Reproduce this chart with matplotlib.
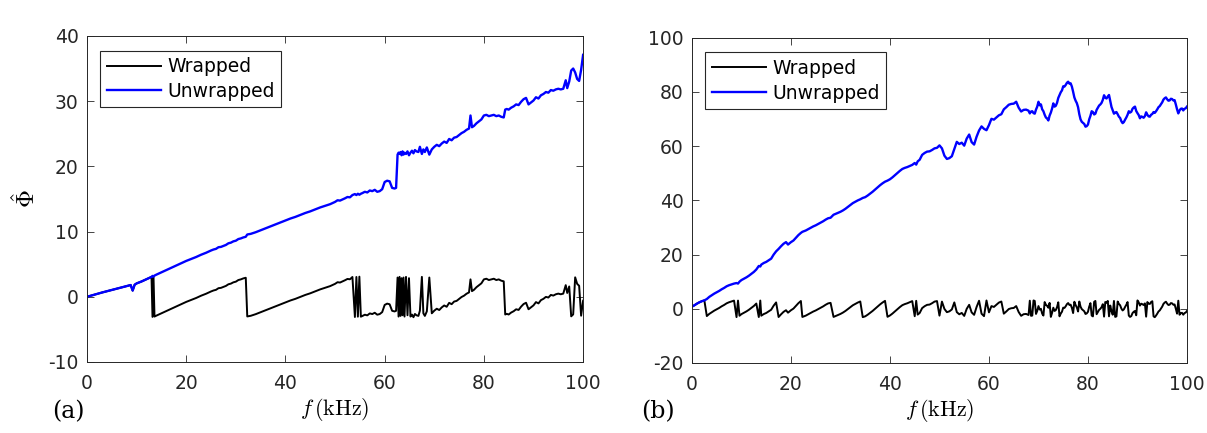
import numpy as np
import matplotlib.pyplot as plt

plt.rcParams['font.family'] = ['DejaVu Sans']
plt.rcParams['mathtext.fontset'] = 'cm'
plt.rcParams['axes.unicode_minus'] = False

# (a) unwrapped phase vs frequency (kHz)
f_a = [0, 1, 2, 3, 4, 5, 6, 7, 8, 8.8, 9.2, 9.6, 10, 11, 12, 13, 13.2, 13.4, 13.6,
       14, 15, 16, 17, 18, 19, 20, 21, 22, 23, 24, 25, 25.5, 26, 26.5, 27, 28, 28.5,
       29, 29.5, 30, 30.5, 31, 31.5, 32, 32.3, 33, 34, 35, 36, 37, 38, 39, 40, 41,
       42, 43, 44, 45, 46, 47, 48, 49, 50, 50.5, 51, 52, 52.5, 53, 53.5, 54, 54.3,
       54.6, 54.9, 55.2, 55.5, 56, 56.5, 57, 57.5, 58, 58.5, 59, 59.5, 60, 60.5, 61,
       61.5, 62, 62.3, 62.6, 62.8, 63.0, 63.2, 63.4, 63.6, 63.8, 64.0, 64.3, 64.6,
       64.9, 65.2, 65.5, 65.8, 66.1, 66.4, 66.8, 67.1, 67.5, 67.8, 68.1, 68.5, 69.0,
       69.5, 70, 70.5, 71, 71.5, 72, 72.5, 73, 73.5, 74, 74.5, 75, 75.5, 76, 76.5,
       77, 77.3, 77.6, 78, 78.5, 79, 79.5, 80, 80.5, 81, 81.5, 82, 82.5, 83, 83.5,
       84, 84.3, 84.6, 85, 85.5, 86, 86.5, 87, 87.5, 88, 88.5, 89, 89.5, 90, 90.5,
       91, 91.5, 92, 92.5, 93, 93.5, 94, 94.5, 95, 95.5, 96, 96.5, 96.8, 97.2, 97.6,
       98.0, 98.4, 98.8, 99.2, 99.6, 100]
phi_a = [0.0, 0.22, 0.45, 0.65, 0.85, 1.05, 1.25, 1.45, 1.65, 1.8, 0.95, 1.85, 2.05,
         2.35, 2.7, 3.05, 3.2, 3.1, 3.25,
         3.4, 3.75, 4.1, 4.45, 4.8, 5.15, 5.5, 5.8, 6.1, 6.45, 6.75, 7.1, 7.25, 7.35,
         7.6, 7.65, 7.95, 8.2, 8.3, 8.5, 8.6, 8.85, 8.95, 9.1, 9.2, 9.55, 9.65, 9.9,
         10.2, 10.5, 10.8, 11.1, 11.4, 11.7, 12.0, 12.25, 12.55, 12.85, 13.1, 13.4,
         13.7, 13.95, 14.2, 14.55, 14.8, 14.75, 15.1, 15.3, 15.25, 15.6, 15.75, 15.6,
         15.8, 15.65, 15.8, 15.9, 16.1, 16.0, 16.3, 16.2, 16.4, 16.1, 16.2, 16.5, 17.6,
         17.8, 17.7, 16.7, 16.6, 16.7, 21.8, 22.1, 21.9, 22.2, 21.7, 22.3, 21.8, 22.1,
         21.9, 22.3, 21.7, 22.1, 22.4, 22.0, 22.5, 22.3, 22.2, 23.0, 21.9, 22.6, 22.2,
         22.9, 21.8,
         22.6, 23.0, 23.3, 23.1, 23.5, 23.8, 23.6, 24.2, 24.0, 24.4, 24.5, 24.8, 25.1,
         25.3, 25.6, 25.8, 27.8, 26.0, 26.2, 26.6, 26.9, 27.2, 27.8, 27.9, 27.7, 27.8,
         27.9, 27.7, 27.8, 27.6, 27.5, 28.7, 28.8, 28.7, 29.0, 29.2, 29.5, 29.4, 29.9,
         30.3, 30.5, 29.5, 29.8, 30.1, 30.6, 30.4, 30.9, 31.1, 31.4, 31.3, 31.7, 31.6,
         31.8, 31.9, 31.8, 31.9, 33.2, 32.0, 33.0, 34.7, 35.0, 34.4, 33.4, 33.1, 34.8,
         37.1]

# (b) unwrapped phase vs frequency (kHz); sampled every 0.25 kHz above 68 kHz
f_b = [0, 0.5, 1, 1.5, 2, 2.5, 3, 3.5, 4, 4.5, 5, 5.5, 6, 6.5, 7, 7.5, 8, 8.5, 9,
       9.3, 9.6, 10, 10.5, 11, 11.5, 12, 12.5, 13, 13.5, 13.8, 14, 14.5, 15, 15.5,
       16, 16.5, 17, 17.5, 18, 18.5, 19, 19.4, 20, 20.5, 21, 21.5, 22, 22.3, 23,
       23.5, 24, 24.5, 25, 25.5, 26, 26.5, 27, 27.5, 28, 28.6, 29, 29.5, 30, 30.5,
       31, 31.5, 32, 32.5, 33, 33.5, 34, 34.5, 35, 35.5, 36, 36.5, 37, 37.5, 38,
       38.5, 39, 39.5, 40, 40.5, 41, 41.5, 42, 42.5, 43, 43.5, 44, 44.5, 45, 45.3,
       45.6, 46, 46.5, 47, 47.5, 48, 48.5, 49, 49.5, 50, 50.5, 51, 51.5, 52, 52.5,
       53, 53.5, 54, 54.5, 55, 55.5, 56, 56.5, 57, 57.5, 58, 58.5, 59, 59.5, 60,
       60.5, 61, 61.5, 62, 62.5, 63, 63.5, 64, 64.5, 65, 65.5, 66, 66.5, 67, 67.5]
f_b = f_b + list(np.arange(68, 100.01, 0.25))
phi_b = [0.8, 1.3, 1.9, 2.4, 2.8, 3.1, 3.6, 4.4, 5.0, 5.6, 6.1, 6.6, 7.2, 7.7, 8.3,
         8.7, 9.0, 9.3, 9.5, 9.3, 10.0, 10.6, 11.1, 11.6, 12.2, 12.9, 13.6, 14.5,
         15.8, 15.6, 16.3, 16.9, 17.3, 17.9, 18.5, 20.0, 21.2, 22.1, 23.1, 24.0, 24.6,
         23.7, 24.6, 25.2, 26.2, 27.2, 28.0, 28.4, 28.9, 29.4, 29.9, 30.4, 30.8, 31.3,
         31.8, 32.3, 32.9, 33.4, 33.6, 34.7, 35.0, 35.4, 35.8, 36.3, 36.9, 37.6, 38.3,
         39.0, 39.5, 40.0, 40.4, 40.9, 41.2, 41.8, 42.5, 43.2, 44.0, 44.8, 45.6, 46.3,
         46.9, 47.3, 47.8, 48.5, 49.3, 50.1, 50.9, 51.6, 52.0, 52.3, 52.7, 53.1, 53.8,
         53.2, 54.4, 55.0, 56.8, 57.5, 58.0, 58.1, 58.6, 59.2, 59.4, 60.3, 59.2, 56.5,
         55.3, 55.6, 56.3, 58.9, 61.6, 60.8, 61.3, 60.2, 62.8, 64.3, 61.5, 60.6, 63.5,
         65.8, 67.3, 66.4, 65.9, 67.8, 70.1, 69.8, 70.6, 71.4, 71.8, 73.6, 74.4, 75.3,
         75.6, 75.7, 76.4, 74.2, 72.8, 73.4, 73.5,
         # 68 .. 100 kHz
         73.1, 72.1, 72.8, 72.9, 72.2, 72.0, 73.5, 74.6, 76.4, 75.1, 75.4, 73.6,
         72.9, 71.6, 70.6, 70.2, 69.5, 71.3, 72.4, 73.9, 75.8, 74.6, 74.9, 76.0,
         77.8, 78.9, 79.9, 80.6, 82.1, 82.0, 82.6, 83.4, 83.8, 83.1, 83.2, 82.0,
         80.1, 78.0, 76.8, 75.9, 74.4, 71.8, 69.9, 69.0, 68.6, 68.2, 67.2, 67.4,
         68.0, 69.9, 71.2, 72.9, 72.6, 71.7, 72.0, 73.4, 74.2, 75.0, 75.4, 76.0,
         77.1, 78.8, 77.9, 77.6, 78.3, 78.9, 76.6, 74.5, 73.2, 72.0, 72.4, 72.6,
         71.8, 70.9, 70.4, 69.2, 68.5, 68.9, 69.8, 70.6, 71.6, 72.9, 72.4, 72.7,
         73.8, 74.3, 74.6, 73.0, 72.2, 71.5, 70.3, 71.0, 70.8, 70.5, 71.1, 72.5,
         71.6, 71.0, 70.9, 71.6, 71.9, 72.6, 72.3, 72.9, 73.6, 74.4, 74.8, 75.5,
         76.2, 77.2, 77.7, 78.0, 77.3, 76.8, 76.9, 77.5, 77.4, 76.9, 77.0, 75.4,
         73.6, 72.1, 73.2, 73.8, 73.9, 73.2, 73.8, 74.0, 74.6]

ylim_a = (-10, 40)
ylim_b = (-20, 100)
xticks = [0, 20, 40, 60, 80, 100]


def wrap(phase):
    return np.angle(np.exp(1j * np.asarray(phase)))


def style_axes(ax, ylim, yticks):
    ax.set_xlim(0, 100)
    ax.set_ylim(*ylim)
    ax.set_xticks(xticks)
    ax.set_yticks(yticks)
    ax.tick_params(direction='in', length=5, width=0.6, top=True, right=True,
                   labelsize=13.5, colors='#262626', pad=6)
    ax.tick_params(axis='x', pad=9)
    for sp in ax.spines.values():
        sp.set_color('#262626')
        sp.set_linewidth(0.7)
    ax.set_xlabel(r'$f\,(\mathrm{kHz})$', fontsize=16, labelpad=2)
    leg = ax.legend(loc='upper left', bbox_to_anchor=(0.027, 0.955), borderaxespad=0,
                    fontsize=13.5, fancybox=False, framealpha=1, edgecolor='#262626',
                    handlelength=2.9, handletextpad=0.3, labelspacing=0.3,
                    borderpad=0.35)
    leg.get_frame().set_linewidth(0.8)


fig = plt.figure(figsize=(12.07, 4.33), dpi=100)
ax1 = fig.add_axes([0.0721, 0.164, 0.411, 0.753])
ax2 = fig.add_axes([0.5733, 0.1617, 0.4101, 0.751])

ax1.plot(f_a, wrap(phi_a), color='k', lw=1.4, label='Wrapped')
ax1.plot(f_a, phi_a, color='#0000ff', lw=1.7, label='Unwrapped')
style_axes(ax1, ylim_a, np.arange(-10, 41, 10))
ax1.set_ylabel(r'$\hat{\Phi}$', fontsize=18, labelpad=6)

ax2.plot(f_b, wrap(phi_b), color='k', lw=1.4, label='Wrapped')
ax2.plot(f_b, phi_b, color='#0000ff', lw=1.7, label='Unwrapped')
style_axes(ax2, ylim_b, np.arange(-20, 101, 20))

fig.text(0.043, 0.035, '(a)', fontsize=17, family='DejaVu Serif')
fig.text(0.531, 0.035, '(b)', fontsize=17, family='DejaVu Serif')

fig.savefig('out.png', dpi=100, facecolor='white')
